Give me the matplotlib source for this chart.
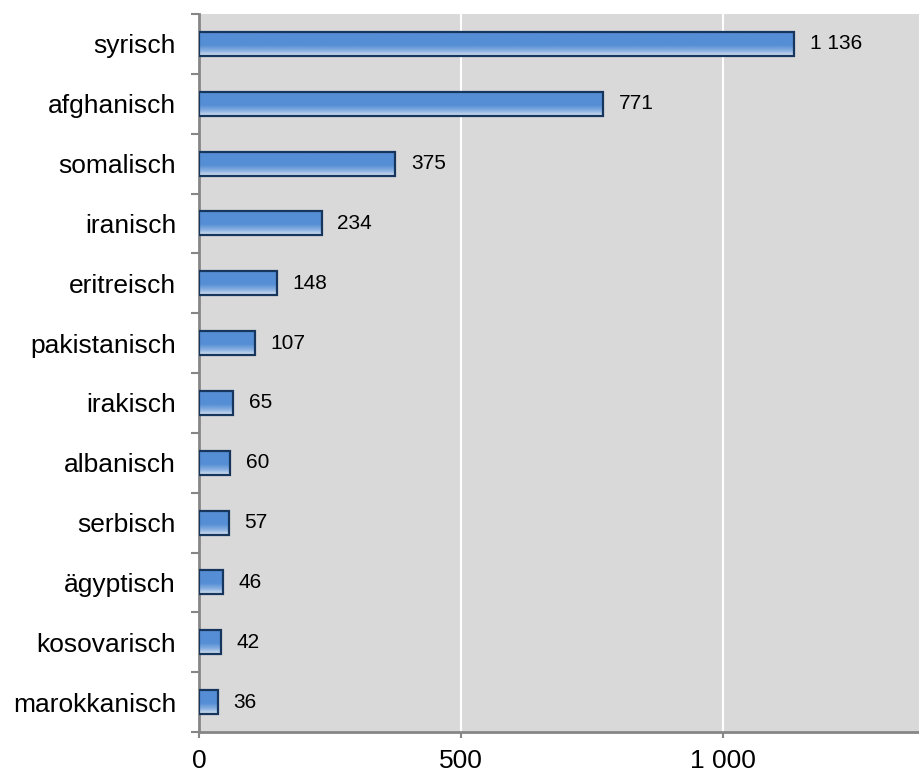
import matplotlib.pyplot as plt
import numpy as np
from matplotlib.colors import LinearSegmentedColormap
from matplotlib.ticker import FuncFormatter, FixedLocator

plt.rcParams['font.family'] = ['Liberation Sans', 'DejaVu Sans']

nationalities = ["syrisch", "afghanisch", "somalisch", "iranisch", "eritreisch",
                 "pakistanisch", "irakisch", "albanisch", "serbisch", "ägyptisch",
                 "kosovarisch", "marokkanisch"]
counts = [1136, 771, 375, 234, 148, 107, 65, 60, 57, 46, 42, 36]
x_ticks = [0, 500, 1000]


def fmt_space(v, pos=None):
	# Tausendertrennzeichen als Leerzeichen
	return "{:,}".format(int(round(v))).replace(",", " ")


fig = plt.figure(figsize=(9.2, 7.73), dpi=100)
ax = fig.add_axes([0.2163, 0.053, 1 - 0.2163, 0.9819 - 0.053])
ax.set_facecolor("#d9d9d9")

bar_h = 0.4
ypos = np.arange(len(nationalities))

# Farbverlauf: oben kräftiges Blau, unten hell auslaufend
grad_cmap = LinearSegmentedColormap.from_list(
	"bar", [(0.0, "#558ed5"), (0.55, "#558ed5"), (0.8, "#8db3e2"), (1.0, "#dbe5f1")])
grad = np.linspace(0, 1, 64).reshape(-1, 1)

bars = ax.barh(ypos, counts, height=bar_h, facecolor="none",
               edgecolor="#17365d", linewidth=1.6, zorder=4)
for b in bars:
	x0, y0 = b.get_x(), b.get_y()
	w, h = b.get_width(), b.get_height()
	ax.imshow(grad, cmap=grad_cmap, aspect="auto", origin="upper",
	          extent=(x0, x0 + w, y0 + h, y0), zorder=3, interpolation="bilinear")

for y, v in zip(ypos, counts):
	ax.text(v + 30, y, fmt_space(v), va="center", ha="left", fontsize=15, color="#000000", zorder=5)

ax.set_xlim(0, 1376)
ax.set_ylim(len(nationalities) - 0.5, -0.5)

ax.xaxis.set_major_locator(FixedLocator(x_ticks))
ax.xaxis.set_major_formatter(FuncFormatter(fmt_space))
ax.grid(axis="x", color="white", linewidth=1.5, zorder=1)
ax.set_axisbelow(True)

ax.set_yticks(ypos)
ax.set_yticklabels(nationalities)
ax.set_yticks(np.arange(len(nationalities) + 1) - 0.5, minor=True)
ax.tick_params(axis="y", which="major", length=0, pad=16.5, labelsize=19)
ax.tick_params(axis="y", which="minor", length=6, width=1.5, color="#868686")
ax.tick_params(axis="x", which="major", length=4.5, width=1.5, color="#868686", pad=8, labelsize=19)

for side in ("top", "right"):
	ax.spines[side].set_visible(False)
for side in ("left", "bottom"):
	ax.spines[side].set_color("#868686")
	ax.spines[side].set_linewidth(2)

fig.savefig("out.png", dpi=100)
